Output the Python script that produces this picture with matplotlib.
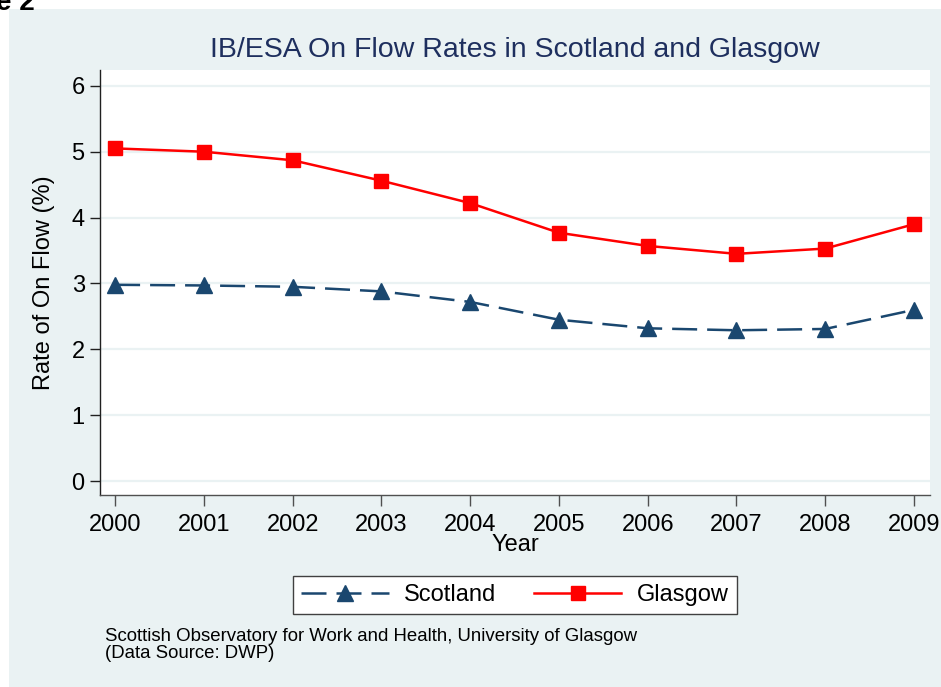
#!/usr/bin/env python3
"""IB/ESA on-flow rates, Scotland vs Glasgow (Stata s2color look)."""

import matplotlib
matplotlib.use("Agg")
import matplotlib.pyplot as plt
from matplotlib.patches import Rectangle

years = [2000, 2001, 2002, 2003, 2004, 2005, 2006, 2007, 2008, 2009]
scotland = [2.98, 2.97, 2.95, 2.88, 2.72, 2.45, 2.32, 2.29, 2.31, 2.60]
glasgow = [5.05, 5.00, 4.87, 4.56, 4.22, 3.77, 3.57, 3.45, 3.53, 3.90]
y_ticks = [0, 1, 2, 3, 4, 5, 6]

plt.rcParams["font.family"] = ["Liberation Sans", "DejaVu Sans"]

PANEL = "#EAF2F3"
NAVY = "#1A476F"
RED = "#FF0000"
TITLE = "#1E2F5E"

W, H = 941, 687
fig = plt.figure(figsize=(W / 100, H / 100), dpi=100)
fig.patch.set_facecolor("white")
fig.add_artist(Rectangle((9 / W, 0), 1, 1 - 9 / H, transform=fig.transFigure,
                         facecolor=PANEL, edgecolor="none", zorder=0))
fig.text(-0.004, 1 - 10 / H, "e 2", fontsize=20, fontweight="bold", va="baseline")

ax = fig.add_axes([100 / W, 1 - 495 / H, 830 / W, 425 / H])
ax.set_facecolor("white")

ax.plot(years, scotland, color=NAVY, lw=1.8, linestyle=(0, (10, 4)),
        marker="^", markersize=11, label="Scotland", zorder=3)
ax.plot(years, glasgow, color=RED, lw=1.8, marker="s", markersize=9.5,
        label="Glasgow", zorder=3)

ax.set_xlim(1999.83, 2009.18)
ax.set_ylim(-0.21, 6.24)
ax.set_xticks(years)
ax.set_yticks(y_ticks)
ax.grid(axis="y", color=PANEL, lw=1.6)
ax.set_axisbelow(True)
for s in ("top", "right"):
    ax.spines[s].set_visible(False)
ax.spines["left"].set_color("#202020")
ax.spines["bottom"].set_color("#505050")
ax.spines["left"].set_linewidth(1.0)
ax.spines["bottom"].set_linewidth(1.0)
ax.tick_params(axis="y", labelsize=17, length=7, width=1, pad=4, color="#202020")
ax.tick_params(axis="x", labelsize=17, length=8, width=1, pad=6, color="#505050")

ax.set_ylabel("Rate of On Flow (%)", fontsize=17, labelpad=12)
ax.set_xlabel("Year", fontsize=17, labelpad=-2)
fig.text(515 / W, 1 - 50 / H, "IB/ESA On Flow Rates in Scotland and Glasgow",
         ha="center", va="center", fontsize=20.5, color=TITLE)

leg = fig.legend(loc="center", bbox_to_anchor=(515 / W, 1 - 595 / H), ncol=2,
                 fontsize=17, frameon=True, fancybox=False, framealpha=1,
                 handlelength=3.7, columnspacing=1.6, handletextpad=0.65,
                 borderpad=0.35)
leg.get_frame().set_edgecolor("#404040")
leg.get_frame().set_linewidth(1.0)
leg.get_frame().set_facecolor("white")

fig.text(105 / W, 1 - 628 / H,
         "Scottish Observatory for Work and Health, University of Glasgow\n(Data Source: DWP)",
         ha="left", va="top", fontsize=13.4, linespacing=1.0)

fig.savefig("out.png", dpi=100)
